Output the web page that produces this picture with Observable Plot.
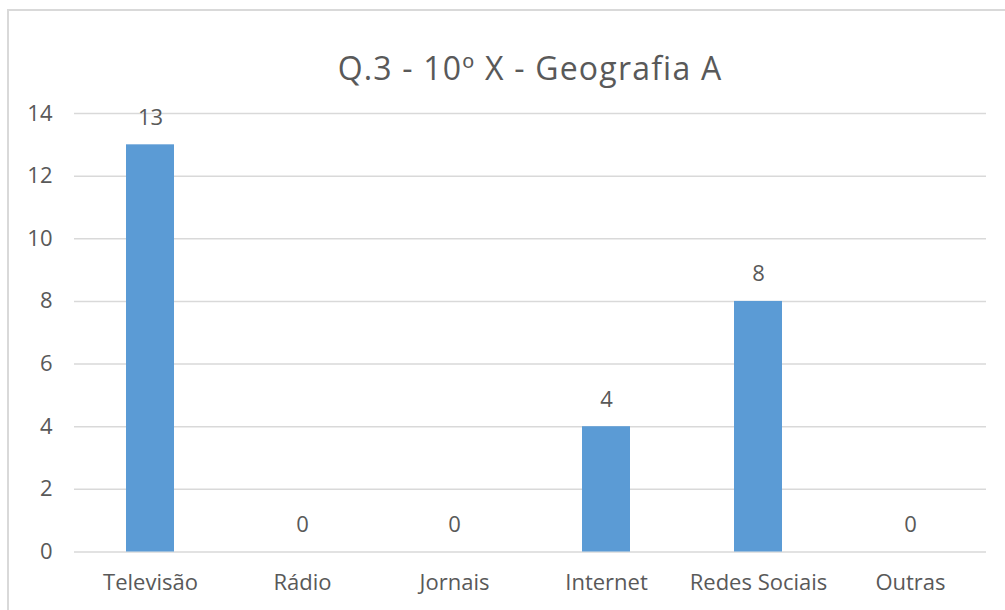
<!DOCTYPE html>
<html>
<head>
<meta charset="utf-8">
<script src="https://cdn.jsdelivr.net/npm/d3@7"></script>
<script src="https://cdn.jsdelivr.net/npm/@observablehq/plot@0.6"></script>
<style>
  html, body { margin: 0; padding: 0; background: #fff; overflow: hidden; }
  #frame {
    position: absolute; left: 7px; top: 9px; width: 1100px; height: 700px;
    border: 2px solid #d9d9d9; box-sizing: border-box;
  }
  #title {
    position: absolute; left: 0; top: 0; width: 1060px; height: 100px;
    text-align: center; font-family: "Open Sans", sans-serif; font-size: 32px;
    letter-spacing: 1.2px;
    color: #595959; line-height: 1; padding-top: 52px; box-sizing: border-box;
  }
  #chart { position: absolute; left: 0; top: 100px; }
</style>
</head>
<body>
<div id="frame"></div>
<div id="title">Q.3 - 10º X - Geografia A</div>
<div id="chart"></div>
<script>
// Information sources reported by the class
const categories = ["Televisão", "Rádio", "Jornais", "Internet", "Redes Sociais", "Outras"];
const counts = [13, 0, 0, 4, 8, 0];
const yTicks = [0, 2, 4, 6, 8, 10, 12, 14];

const data = categories.map((c, i) => ({category: c, count: counts[i]}));

const textColor = "#595959";
const font = "'Open Sans', sans-serif";
const labelSize = 22;

const chart = Plot.plot({
  width: 1005,
  height: 510,
  marginLeft: 74,
  marginRight: 19,
  marginTop: 13,
  marginBottom: 58.5,
  style: {fontFamily: font, fontSize: `${labelSize}px`, color: textColor, background: "transparent", overflow: "visible"},
  x: {domain: categories, paddingInner: 0.684, paddingOuter: 0.342, label: null},
  y: {domain: [0, 14], ticks: yTicks, label: null},
  marks: [
    Plot.ruleY(yTicks, {stroke: "#d9d9d9", strokeWidth: 1.5}),
    Plot.barY(data, {x: "category", y: "count", fill: "#5b9bd5"}),
    Plot.text(data, {x: "category", y: "count", text: d => String(d.count), dy: -27, fill: textColor, fontSize: labelSize}),
    Plot.axisY({ticks: yTicks, tickSize: 0, tickPadding: 22, fontSize: labelSize, label: null, color: textColor}),
    Plot.axisX({tickSize: 0, tickPadding: 22, fontSize: labelSize, label: null, color: textColor})
  ]
});

document.getElementById("chart").appendChild(chart);
</script>
</body>
</html>
